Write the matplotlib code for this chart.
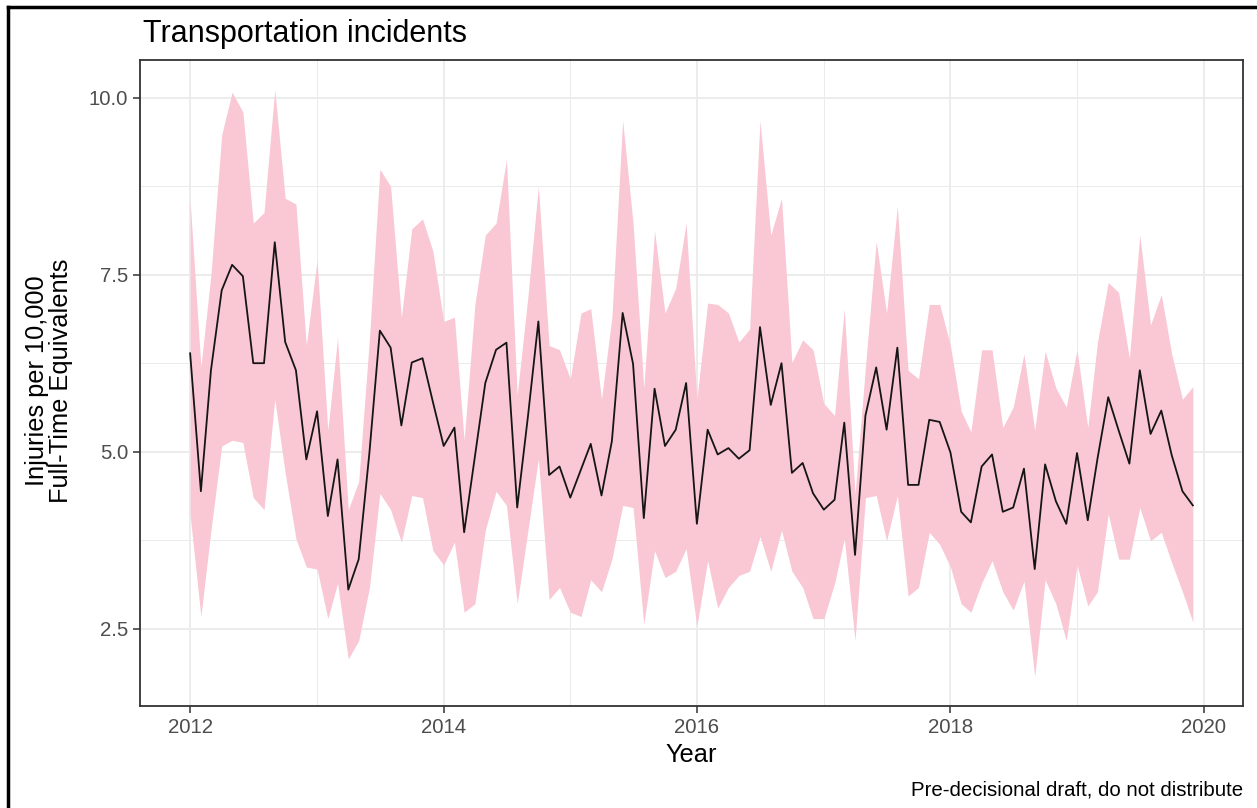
import matplotlib
matplotlib.use("Agg")
import matplotlib.pyplot as plt
import matplotlib.dates as mdates
from matplotlib.lines import Line2D
import pandas as pd

plt.rcParams['font.family'] = ['Liberation Sans', 'DejaVu Sans']

# Monthly series, Jan 2012 - Dec 2019
months = pd.date_range("2012-01-01", periods=96, freq="MS")

rate = [
    6.39, 4.44, 6.15, 7.28, 7.64, 7.48, 6.25, 6.25, 7.96, 6.55, 6.15, 4.89,
    5.57, 4.09, 4.89, 3.05, 3.48, 4.99, 6.71, 6.47, 5.37, 6.26, 6.32, 5.70,
    5.08, 5.34, 3.86, 4.93, 5.97, 6.44, 6.54, 4.21, 5.50, 6.84, 4.67, 4.79,
    4.35, 4.75, 5.11, 4.38, 5.15, 6.96, 6.24, 4.06, 5.89, 5.08, 5.31, 5.97,
    3.98, 5.31, 4.96, 5.05, 4.90, 5.02, 6.76, 5.66, 6.25, 4.70, 4.84, 4.41,
    4.18, 4.32, 5.41, 3.54, 5.51, 6.19, 5.31, 6.47, 4.53, 4.53, 5.45, 5.42,
    4.99, 4.15, 4.00, 4.79, 4.96, 4.15, 4.21, 4.76, 3.34, 4.82, 4.30, 3.98,
    4.98, 4.03, 4.90, 5.77, 5.30, 4.83, 6.15, 5.25, 5.58, 4.95, 4.44, 4.24,
]

upper = [
    8.55, 6.20, 7.50, 9.48, 10.08, 9.80, 8.23, 8.38, 10.12, 8.58, 8.50, 6.50,
    7.71, 5.30, 6.61, 4.18, 4.58, 6.60, 8.99, 8.75, 6.90, 8.15, 8.29, 7.83,
    6.84, 6.90, 5.16, 7.08, 8.06, 8.23, 9.13, 5.80, 7.20, 8.75, 6.50, 6.44,
    6.03, 6.96, 7.02, 5.74, 6.90, 9.68, 8.23, 5.90, 8.12, 6.96, 7.31, 8.23,
    5.74, 7.10, 7.08, 6.96, 6.55, 6.73, 9.68, 8.06, 8.58, 6.26, 6.58, 6.44,
    5.68, 5.51, 7.02, 4.40, 6.20, 7.97, 6.96, 8.47, 6.15, 6.03, 7.08, 7.08,
    6.50, 5.57, 5.28, 6.44, 6.44, 5.34, 5.63, 6.38, 5.30, 6.42, 5.90, 5.63,
    6.44, 5.34, 6.55, 7.39, 7.25, 6.32, 8.06, 6.79, 7.22, 6.38, 5.74, 5.92,
]

lower = [
    4.10, 2.67, 3.89, 5.08, 5.16, 5.13, 4.35, 4.18, 5.74, 4.70, 3.77, 3.37,
    3.34, 2.64, 3.14, 2.07, 2.33, 3.08, 4.41, 4.18, 3.72, 4.38, 4.35, 3.60,
    3.40, 3.72, 2.73, 2.85, 3.89, 4.44, 4.24, 2.85, 3.89, 4.90, 2.91, 3.08,
    2.73, 2.67, 3.19, 3.02, 3.48, 4.24, 4.21, 2.56, 3.60, 3.22, 3.31, 3.63,
    2.53, 3.46, 2.79, 3.08, 3.25, 3.31, 3.80, 3.31, 3.89, 3.31, 3.08, 2.64,
    2.64, 3.14, 3.77, 2.33, 4.35, 4.38, 3.74, 4.38, 2.96, 3.08, 3.86, 3.69,
    3.37, 2.85, 2.73, 3.14, 3.46, 3.02, 2.76, 3.17, 1.82, 3.19, 2.85, 2.33,
    3.40, 2.82, 3.02, 4.12, 3.48, 3.48, 4.21, 3.74, 3.86, 3.43, 3.02, 2.59,
]

major_years = [2012, 2014, 2016, 2018, 2020]
minor_years = [2013, 2015, 2017, 2019]
y_major = [2.5, 5.0, 7.5, 10.0]
y_major_labels = ["2.5", "5.0", "7.5", "10.0"]
y_minor = [3.75, 6.25, 8.75]

W, H = 1257, 808
fig = plt.figure(figsize=(W / 100, H / 100), dpi=100)
fig.patch.set_facecolor("white")

L, R, T, B = 140, 1243, 60, 706
ax = fig.add_axes([L / W, 1 - B / H, (R - L) / W, (B - T) / H])

ax.fill_between(months, lower, upper, color="#F9C8D4", linewidth=0, zorder=2)
ax.plot(months, rate, color="#151515", lw=1.3, zorder=3)

# 5% expansion on both axes
x0 = mdates.date2num(months[0])
x1 = mdates.date2num(months[-1])
px = 0.05 * (x1 - x0)
ax.set_xlim(x0 - px, x1 + px)
lo, hi = min(lower), max(upper)
py = 0.05 * (hi - lo)
ax.set_ylim(lo - py, hi + py)

ax.set_xticks([pd.Timestamp(f"{y}-01-01") for y in major_years])
ax.set_xticklabels([str(y) for y in major_years])
ax.set_xticks([pd.Timestamp(f"{y}-01-01") for y in minor_years], minor=True)
ax.set_yticks(y_major)
ax.set_yticklabels(y_major_labels)
ax.set_yticks(y_minor, minor=True)

ax.set_axisbelow(True)
ax.grid(which="major", color="#EBEBEB", lw=1.3, zorder=0)
ax.grid(which="minor", color="#EBEBEB", lw=0.7, zorder=0)

ax.tick_params(which="major", length=5, width=1.1, color="#333333",
               labelsize=14.7, labelcolor="#4D4D4D", pad=3.5)
ax.tick_params(which="minor", length=0)
for s in ax.spines.values():
    s.set_color("#333333")
    s.set_linewidth(1.3)

fig.text(143 / W, 1 - 42 / H, "Transportation incidents", fontsize=22,
         ha="left", va="baseline", color="black")
fig.text((L + R) / 2 / W, 1 - 762 / H, "Year", fontsize=18.3,
         ha="center", va="baseline", color="black")
fig.text(49 / W, 1 - 381 / H, "Injuries per 10,000\nFull-Time Equivalents",
         fontsize=18.3, rotation=90, ha="center", va="center",
         multialignment="center", linespacing=1.0, color="black")
fig.text(R / W, 1 - 795 / H, "Pre-decisional draft, do not distribute",
         fontsize=14.7, ha="right", va="baseline", color="black")

# outer frame edges
fig.add_artist(Line2D([8 / W, 8 / W], [0, 1 - 7 / H], transform=fig.transFigure,
                      color="black", lw=2.5))
fig.add_artist(Line2D([8 / W, 1], [1 - 7 / H, 1 - 7 / H], transform=fig.transFigure,
                      color="black", lw=2.5))

fig.savefig("out.png", dpi=100)
